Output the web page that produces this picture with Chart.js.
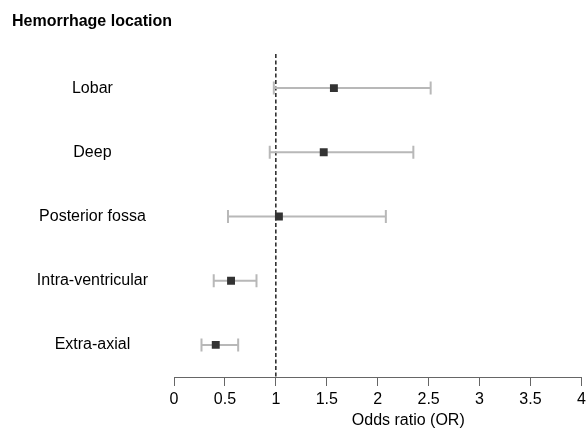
<!DOCTYPE html>
<html>
<head>
<meta charset="utf-8">
<script src="https://cdn.jsdelivr.net/npm/chart.js@4/dist/chart.umd.min.js"></script>
<style>
  html, body { margin: 0; padding: 0; background: #fff; }
  #wrap { width: 587px; height: 434px; }
</style>
</head>
<body>
<div id="wrap"><canvas id="chart"></canvas></div>
<script>
const categories = ['Lobar', 'Deep', 'Posterior fossa', 'Intra-ventricular', 'Extra-axial'];
const oddsRatio = [1.57, 1.47, 1.03, 0.56, 0.41];
const ciLower = [0.98, 0.94, 0.53, 0.39, 0.27];
const ciUpper = [2.52, 2.35, 2.08, 0.81, 0.63];
const xTicks = [0, 0.5, 1, 1.5, 2, 2.5, 3, 3.5, 4];
const refLine = 1;

const font = "Arial, 'Liberation Sans', Helvetica, sans-serif";

// whiskers + reference line drawn through the scales
const forestPlugin = {
  id: 'forest',
  beforeDatasetsDraw(chart) {
    const { ctx, scales: { x, y }, chartArea } = chart;
    ctx.save();
    // reference line at OR = 1
    ctx.strokeStyle = '#000';
    ctx.lineWidth = 1.3;
    ctx.setLineDash([4, 2.5]);
    ctx.beginPath();
    ctx.moveTo(x.getPixelForValue(refLine), chartArea.top - 2);
    ctx.lineTo(x.getPixelForValue(refLine), chartArea.bottom);
    ctx.stroke();
    ctx.setLineDash([]);

    ctx.strokeStyle = '#b8b8b8';
    ctx.lineWidth = 2;
    categories.forEach((c, i) => {
      const py = y.getPixelForValue(i);
      const x0 = x.getPixelForValue(ciLower[i]);
      const x1 = x.getPixelForValue(ciUpper[i]);
      ctx.beginPath();
      ctx.moveTo(x0, py); ctx.lineTo(x1, py);
      ctx.moveTo(x0, py - 6.5); ctx.lineTo(x0, py + 6.5);
      ctx.moveTo(x1, py - 6.5); ctx.lineTo(x1, py + 6.5);
      ctx.stroke();
    });
    ctx.restore();
  },
  afterDraw(chart) {
    const { ctx, scales: { x } } = chart;
    ctx.save();
    ctx.fillStyle = '#000';
    ctx.font = '16px ' + font;
    ctx.textAlign = 'center';
    ctx.textBaseline = 'middle';
    ctx.fillText('Odds ratio (OR)', x.getPixelForValue(2.3), 421);
    ctx.restore();
  }
};

new Chart(document.getElementById('chart'), {
  type: 'scatter',
  data: {
    datasets: [{
      data: categories.map((c, i) => ({ x: oddsRatio[i], y: c })),
      pointStyle: 'rect',
      pointRadius: 5.6,
      pointHoverRadius: 5.6,
      backgroundColor: '#333',
      borderWidth: 0
    }]
  },
  options: {
    responsive: true,
    maintainAspectRatio: false,
    animation: false,
    layout: { padding: { left: 12, right: 5, top: 0, bottom: 0 } },
    plugins: {
      legend: { display: false },
      tooltip: { enabled: false },
      title: {
        display: true,
        text: 'Hemorrhage location',
        align: 'start',
        color: '#000',
        font: { family: font, size: 16, weight: 'bold' },
        padding: { top: 12, bottom: 24.8 }
      }
    },
    scales: {
      x: {
        type: 'linear',
        min: 0,
        max: 4,
        afterBuildTicks: (s) => { s.ticks = xTicks.map(v => ({ value: v })); },
        afterFit: (s) => { s.height = 57; s.paddingLeft = 0; s.paddingRight = 0; },
        grid: { drawOnChartArea: false, tickLength: 9, color: '#666', lineWidth: 1 },
        border: { color: '#666', width: 1 },
        ticks: {
          color: '#000',
          padding: 4,
          font: { family: font, size: 16 },
          callback: (v) => String(v)
        }
      },
      y: {
        type: 'category',
        labels: categories,
        offset: true,
        afterFit: (s) => { s.width = 162; },
        grid: { display: false },
        border: { display: false },
        ticks: { color: '#000', crossAlign: 'center', padding: 18, font: { family: font, size: 16 } }
      }
    }
  },
  plugins: [forestPlugin]
});
</script>
</body>
</html>
